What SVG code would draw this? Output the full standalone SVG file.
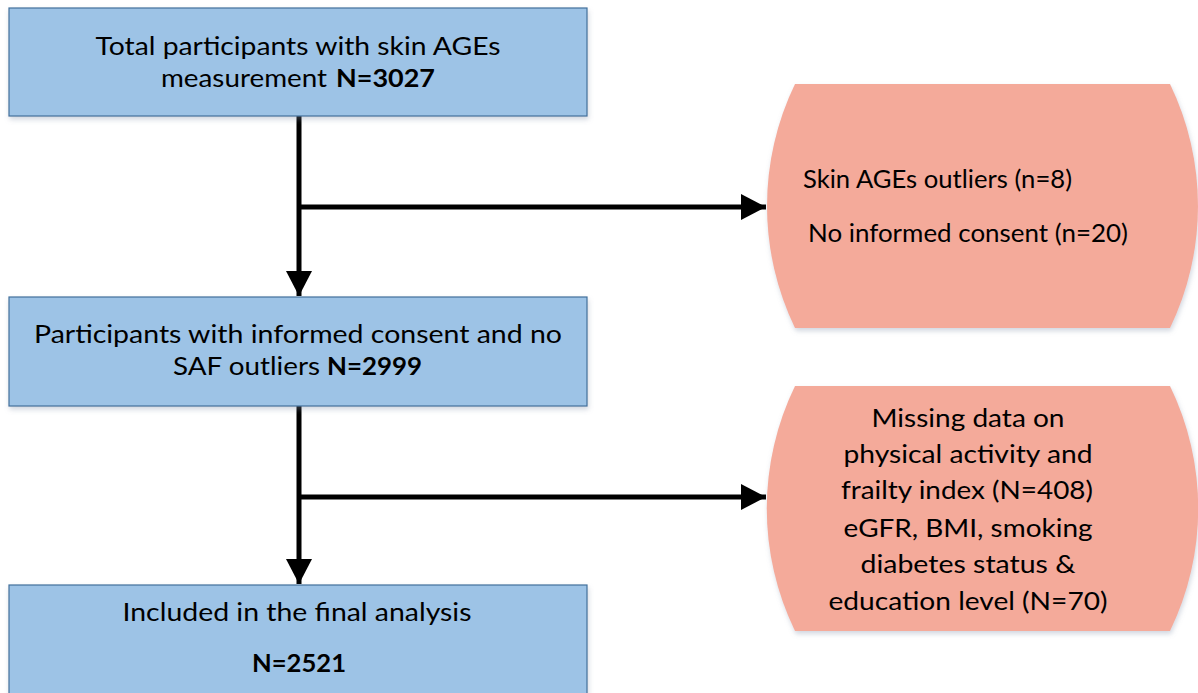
<svg xmlns="http://www.w3.org/2000/svg" width="1198" height="693" viewBox="0 0 1198 693">
<style>
.box{fill:#9DC3E6;stroke:#41719C;stroke-width:1.2;filter:url(#sh)}
.ex{fill:#F4AA9A;filter:url(#sh)}
.t{font-family:Lato,"Liberation Sans",sans-serif;font-size:25px;fill:#000}
.c{text-anchor:middle}
.b{font-weight:bold}
.ln{stroke:#000;stroke-width:5;fill:none}
</style>
<defs>
<filter id="sh" x="-5%" y="-5%" width="110%" height="115%">
<feDropShadow dx="1" dy="3" stdDeviation="2.5" flood-color="#7f8fa6" flood-opacity="0.35"/>
</filter>
<marker id="ah" markerUnits="userSpaceOnUse" markerWidth="26" markerHeight="26" viewBox="0 0 26 26" refX="25" refY="13" orient="auto">
<path d="M0,0 L25,13 L0,26 Z" fill="#000"/>
</marker>
</defs>
<rect width="1198" height="693" fill="#fff"/>
<g id="connectors">
<line class="ln" x1="299" y1="116" x2="299" y2="296" marker-end="url(#ah)"/>
<line class="ln" x1="297" y1="207" x2="766" y2="207" marker-end="url(#ah)"/>
<line class="ln" x1="299" y1="406" x2="299" y2="584" marker-end="url(#ah)"/>
<line class="ln" x1="297" y1="497" x2="766" y2="497" marker-end="url(#ah)"/>
</g>
<g id="n1">
<rect class="box" x="9" y="8" width="578" height="108"/>
<text class="t c" x="298" y="55" textLength="405" lengthAdjust="spacingAndGlyphs">Total participants with skin AGEs</text>
<text class="t" x="161" y="87" textLength="166" lengthAdjust="spacingAndGlyphs">measurement</text>
<text class="t b" x="336" y="87" textLength="99" lengthAdjust="spacingAndGlyphs">N=3027</text>
</g>
<g id="n2">
<rect class="box" x="9" y="297" width="578" height="109"/>
<text class="t c" x="298" y="343" textLength="528" lengthAdjust="spacingAndGlyphs">Participants with informed consent and no</text>
<text class="t" x="173" y="375" textLength="147" lengthAdjust="spacingAndGlyphs">SAF outliers</text>
<text class="t b" x="327" y="375" textLength="95" lengthAdjust="spacingAndGlyphs">N=2999</text>
</g>
<g id="n3">
<rect class="box" x="9" y="585" width="578" height="115"/>
<text class="t c" x="297" y="621" textLength="349" lengthAdjust="spacingAndGlyphs">Included in the final analysis</text>
<text class="t b" x="252" y="672" textLength="94" lengthAdjust="spacingAndGlyphs">N=2521</text>
</g>
<g id="e1">
<path class="ex" d="M795,84 L1170,84 A280,280 0 0 1 1170,328 L795,328 A280,280 0 0 1 795,84 Z"/>
<text class="t" x="803" y="188" textLength="269" lengthAdjust="spacingAndGlyphs">Skin AGEs outliers (n=8)</text>
<text class="t" x="808" y="242" textLength="320" lengthAdjust="spacingAndGlyphs">No informed consent (n=20)</text>
</g>
<g id="e2">
<path class="ex" d="M795,386 L1170,386 A280,280 0 0 1 1170,631 L795,631 A280,280 0 0 1 795,386 Z"/>
<text class="t c" x="968" y="427" textLength="193" lengthAdjust="spacingAndGlyphs">Missing data on</text>
<text class="t c" x="968" y="463" textLength="249" lengthAdjust="spacingAndGlyphs">physical activity and</text>
<text class="t c" x="967" y="499" textLength="252" lengthAdjust="spacingAndGlyphs">frailty index (N=408)</text>
<text class="t c" x="968" y="537" textLength="249" lengthAdjust="spacingAndGlyphs">eGFR, BMI, smoking</text>
<text class="t c" x="968" y="573" textLength="215" lengthAdjust="spacingAndGlyphs">diabetes status &amp;</text>
<text class="t c" x="968" y="610" textLength="279" lengthAdjust="spacingAndGlyphs">education level (N=70)</text>
</g>
</svg>
